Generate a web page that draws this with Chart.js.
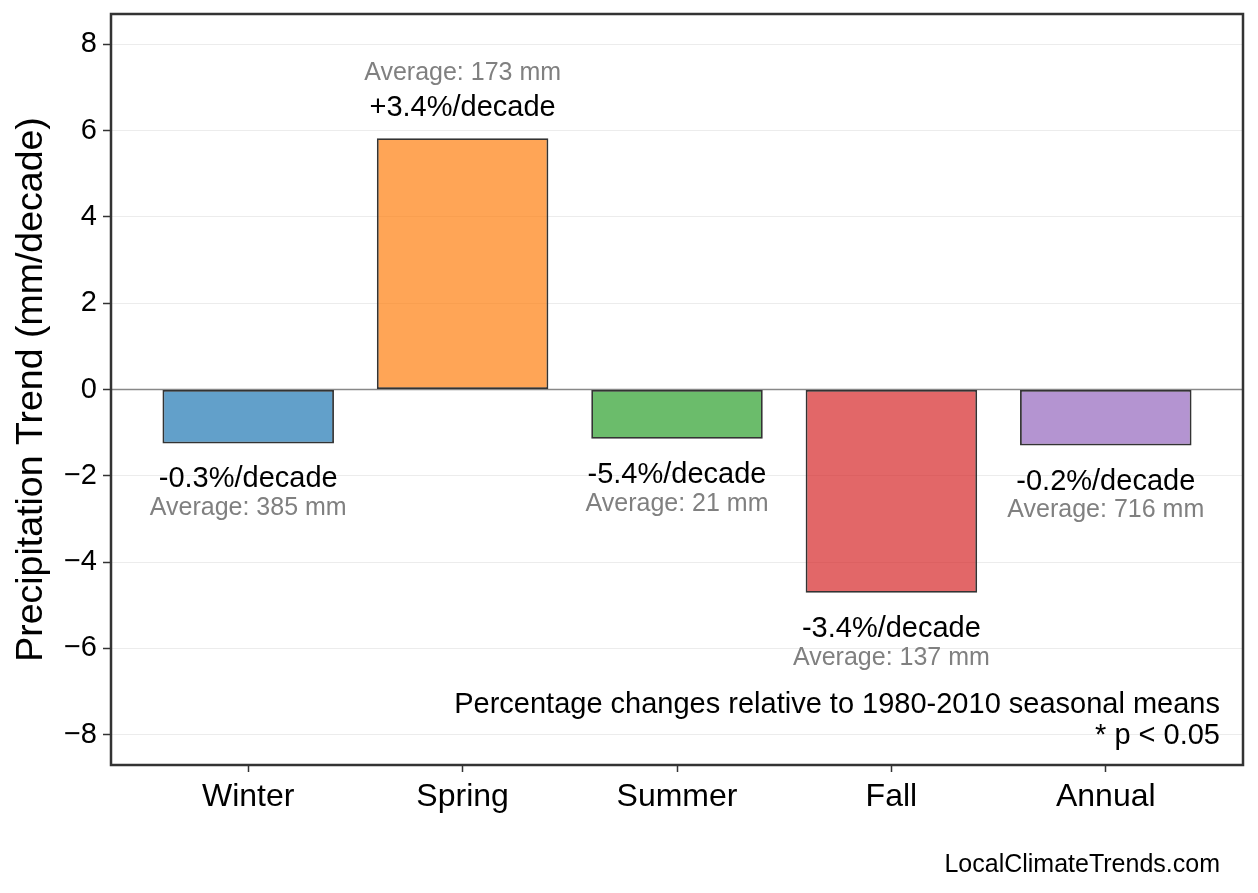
<!DOCTYPE html>
<html>
<head>
<meta charset="utf-8">
<title>Precipitation Trend</title>
<script src="https://cdn.jsdelivr.net/npm/chart.js@4.4.1/dist/chart.umd.min.js"></script>
<style>
  html, body { margin: 0; padding: 0; background: #fff; }
  #chart { display: block; }
</style>
</head>
<body>
<canvas id="chart" width="1258" height="893"></canvas>
<script>
// chart values
const categories = ['Winter', 'Spring', 'Summer', 'Fall', 'Annual'];
const trends = [-1.25, 5.82, -1.14, -4.71, -1.30];          // mm/decade
const pctLabels = ['-0.3%/decade', '+3.4%/decade', '-5.4%/decade', '-3.4%/decade', '-0.2%/decade'];
const averages = [385, 173, 21, 137, 716];                  // mm
const yTicks = [-8, -6, -4, -2, 0, 2, 4, 6, 8];
const barColors = [
  'rgba(31,119,180,0.7)', 'rgba(255,127,14,0.7)', 'rgba(44,160,44,0.7)',
  'rgba(214,39,40,0.7)', 'rgba(148,103,189,0.7)'
];

const FONT = '"Liberation Sans", Arial, Helvetica, sans-serif';

// annotations, frame, zero line and side texts
const extrasPlugin = {
  id: 'extras',
  beforeDatasetsDraw(chart) {
    const { ctx, chartArea: a, scales: { y } } = chart;
    const y0 = y.getPixelForValue(0);
    ctx.save();
    ctx.strokeStyle = '#888';
    ctx.lineWidth = 1.5;
    ctx.beginPath();
    ctx.moveTo(a.left, y0);
    ctx.lineTo(a.right, y0);
    ctx.stroke();
    ctx.restore();
  },
  afterDraw(chart) {
    const { ctx, chartArea: a, scales: { x, y } } = chart;
    ctx.save();

    // frame
    ctx.strokeStyle = '#333';
    ctx.lineWidth = 2.5;
    ctx.strokeRect(a.left, a.top, a.right - a.left, a.bottom - a.top);

    // bar labels
    ctx.textAlign = 'center';
    ctx.textBaseline = 'middle';
    trends.forEach((v, i) => {
      const px = x.getPixelForValue(i);
      const py = y.getPixelForValue(v);
      const dir = v >= 0 ? -1 : 1;
      ctx.font = '29px ' + FONT;
      ctx.fillStyle = '#000';
      ctx.fillText(pctLabels[i], px, py + dir * (v >= 0 ? 30 : 36));
      ctx.font = '25px ' + FONT;
      ctx.fillStyle = '#808080';
      ctx.fillText('Average: ' + averages[i] + ' mm', px, py + dir * 65);
    });

    // footnote inside plot
    ctx.textAlign = 'right';
    ctx.fillStyle = '#000';
    ctx.font = '29px ' + FONT;
    ctx.fillText('Percentage changes relative to 1980-2010 seasonal means', 1220, 705);
    ctx.fillText('* p < 0.05', 1220, 736);

    // watermark
    ctx.font = '25px ' + FONT;
    ctx.fillText('LocalClimateTrends.com', 1220, 865);

    // y axis title
    ctx.translate(32, (a.top + a.bottom) / 2);
    ctx.rotate(-Math.PI / 2);
    ctx.textAlign = 'center';
    ctx.font = '37.5px ' + FONT;
    ctx.fillText('Precipitation Trend (mm/decade)', 0, 0);

    ctx.restore();
  }
};

const ctx = document.getElementById('chart').getContext('2d');
new Chart(ctx, {
  type: 'bar',
  data: {
    datasets: [{
      data: trends.map((v, i) => ({ x: i, y: v })),
      backgroundColor: barColors,
      borderColor: '#333',
      borderWidth: 1.8,
      borderSkipped: false,
      categoryPercentage: 0.8,
      barPercentage: 1.0
    }]
  },
  options: {
    responsive: false,
    animation: false,
    devicePixelRatio: 1,
    layout: { padding: { top: 14, right: 15, left: 0, bottom: 0 } },
    plugins: {
      legend: { display: false },
      tooltip: { enabled: false }
    },
    scales: {
      x: {
        type: 'linear',
        offset: false,
        min: -0.64,
        max: 4.64,
        afterFit: s => { s.height = 128; s.paddingLeft = 0; s.paddingRight = 0; },
        afterBuildTicks: s => { s.ticks = categories.map((c, i) => ({ value: i })); },
        border: { display: false },
        grid: { offset: false, drawOnChartArea: false, drawTicks: true, tickLength: 7, tickColor: '#333', tickWidth: 1.5 },
        ticks: {
          callback: v => categories[v],
          font: { family: FONT, size: 32 },
          color: '#000',
          padding: 6,
          maxRotation: 0
        }
      },
      y: {
        min: -8.7,
        max: 8.7,
        afterFit: s => { s.width = 111; s.paddingTop = 0; s.paddingBottom = 0; },
        afterBuildTicks: s => { s.ticks = yTicks.map(v => ({ value: v })); },
        border: { display: false },
        grid: {
          color: ctx => ctx.tick && ctx.tick.value === 0 ? 'rgba(0,0,0,0)' : '#ececec',
          lineWidth: 1,
          drawTicks: true,
          tickLength: 8,
          tickColor: '#333',
          tickWidth: 1.5
        },
        ticks: {
          callback: v => (v < 0 ? '\u2212' + Math.abs(v) : String(v)),
          font: { family: FONT, size: 29 },
          color: '#000',
          padding: 6
        }
      }
    }
  },
  plugins: [extrasPlugin]
});
</script>
</body>
</html>
